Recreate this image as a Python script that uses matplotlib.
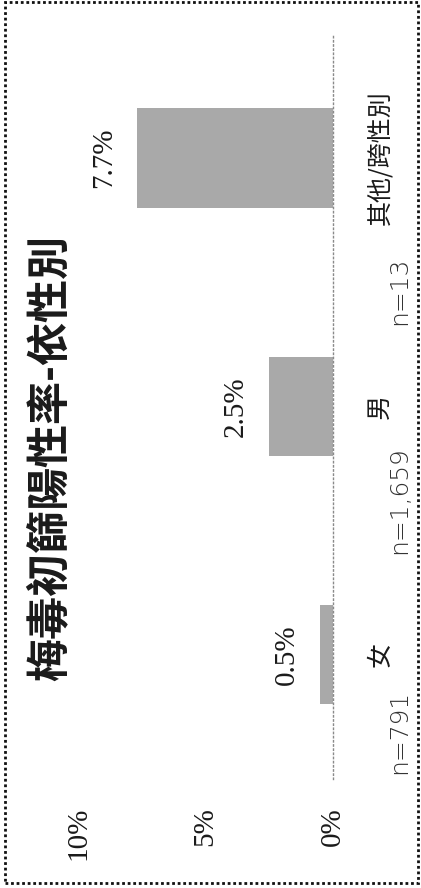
import matplotlib
matplotlib.use("Agg")
import matplotlib.pyplot as plt
from matplotlib.patches import Rectangle

# ---- data ----
categories = ["女", "男", "其他/跨性別"]
counts = ["n=791", "n=1,659", "n=13"]
rates = [0.5, 2.5, 7.7]
value_labels = ["0.5%", "2.5%", "7.7%"]
value_ticks = [0, 5, 10]
value_tick_labels = ["0%", "5%", "10%"]
title = "梅毒初篩陽性率-依性別"

CJK = ["Noto Sans CJK TC", "DejaVu Sans"]
SERIF = ["Liberation Serif", "DejaVu Serif"]
INK = "#1a1a1a"

fig = plt.figure(figsize=(4.21, 8.88), dpi=100)
fig.patch.set_facecolor("white")

# axes in rotated layout (value axis horizontal, inverted)
ax = fig.add_axes([78 / 421, 109.5 / 888, 255 / 421, 744.5 / 888])
pos = list(range(len(categories)))
ax.barh(pos, rates, height=0.4, color="#a9a9a9", edgecolor="none")
ax.set_xlim(10, 0)
ax.set_ylim(-0.5, 2.5)

for s in ["left", "top", "bottom"]:
    ax.spines[s].set_visible(False)
ax.spines["right"].set_linestyle((0, (1, 2)))
ax.spines["right"].set_color("#8a8a8a")
ax.spines["right"].set_linewidth(1.0)

# value ticks (bottom, rotated)
ax.set_xticks(value_ticks)
ax.set_xticklabels(value_tick_labels, rotation=90, va="top", ha="center",
                   family=SERIF, fontsize=21, color=INK)
ax.tick_params(axis="x", length=0, pad=20.5)

# category ticks (right, rotated)
ax.yaxis.tick_right()
ax.set_yticks(pos)
ax.set_yticklabels(categories, rotation=90, ha="left", va="center",
                   family=CJK, fontsize=18, color=INK)
ax.tick_params(axis="y", length=0, pad=24.5)

# n labels beside the category names
n_offsets = [-0.143, -0.163, -0.397]
n_x = (387 - 78) / 255
for i, (c, off) in enumerate(zip(counts, n_offsets)):
    ax.text(n_x, i + off, c, transform=ax.get_yaxis_transform(), rotation=90,
            ha="left", va="top", fontsize=18, color="#333333",
            family=["DejaVu Sans"], fontweight="light")

# value labels beyond bar ends
for i, (v, lab) in enumerate(zip(rates, value_labels)):
    ax.annotate(lab, (v, i), xytext=(-33, 0), textcoords="offset pixels",
                rotation=90, ha="center", va="center", family=SERIF,
                fontsize=21, color=INK)

# title
fig.text(49 / 421, (888 - 458) / 888, title, rotation=90, ha="center",
         va="center", family=CJK, fontsize=31, fontweight="bold", color=INK)

# dotted frame
fig.patches.append(Rectangle((5 / 421, 5 / 888), 413 / 421, 881 / 888,
                             transform=fig.transFigure, fill=False,
                             edgecolor="#111111", linewidth=2.0,
                             linestyle=(0, (1, 1))))

fig.savefig("out.png", dpi=100)
